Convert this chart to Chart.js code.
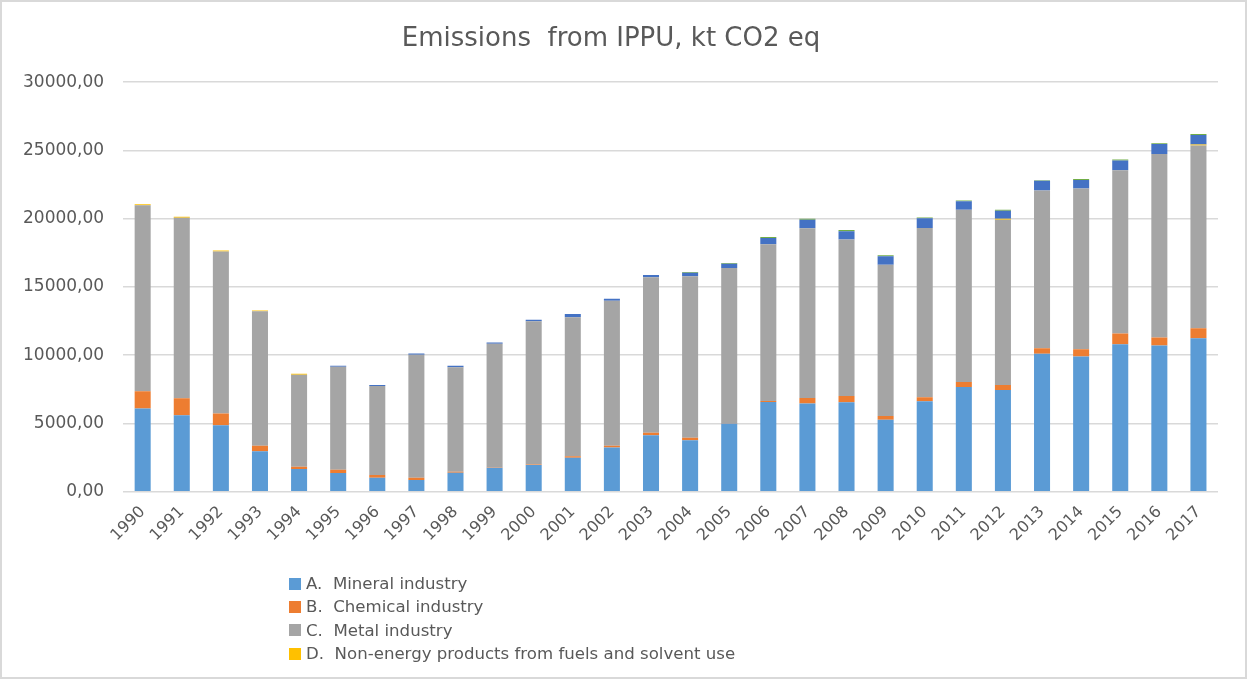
<!DOCTYPE html>
<html lang="en">
<head>
    <meta charset="UTF-8">
    <title>Emissions from IPPU</title>
    <script src="https://cdn.jsdelivr.net/npm/chart.js"></script>
    <style>
        html, body { margin: 0; padding: 0; background: #fff; }
        #frame {
            position: relative;
            width: 1243px;
            height: 675px;
            border: 2px solid #d9d9d9;
            overflow: hidden;
        }
        #chartBox { position: absolute; left: 0; top: 0; width: 1243px; height: 675px; }
        #legend {
            position: absolute;
            left: 287px;
            top: 570px;
            font-family: 'DejaVu Sans', sans-serif;
            font-size: 16.6px;
            color: #595959;
            line-height: 23.3px;
        }
        #legend .item { display: flex; align-items: center; white-space: pre; }
        #legend .box { width: 12px; height: 12px; margin-right: 5px; }
    </style>
</head>
<body>
    <div id="frame">
        <div id="chartBox"><canvas id="ippuChart"></canvas></div>
        <div id="legend"></div>
    </div>

    <script>
        const years = ['1990', '1991', '1992', '1993', '1994', '1995', '1996', '1997', '1998', '1999',
            '2000', '2001', '2002', '2003', '2004', '2005', '2006', '2007', '2008', '2009',
            '2010', '2011', '2012', '2013', '2014', '2015', '2016', '2017'];

        // kt CO2 eq
        const mineral = [6090, 5600, 4870, 2950, 1660, 1365, 1020, 850, 1390, 1750,
            1950, 2480, 3240, 4140, 3770, 4990, 6570, 6450, 6550, 5260,
            6620, 7660, 7450, 10100, 9900, 10800, 10710, 11240];
        const chemical = [1260, 1240, 850, 410, 170, 240, 200, 170, 70, 30,
            30, 120, 120, 170, 170, 30, 70, 410, 460, 290,
            290, 370, 360, 410, 530, 780, 580, 730];
        const metal = [13630, 13230, 11870, 9850, 6740, 7550, 6520, 9010, 7660, 9050,
            10500, 10170, 10630, 11390, 11850, 11360, 11490, 12440, 11460, 11070,
            12410, 12630, 12120, 11560, 11780, 11970, 13450, 13390];
        const nonEnergy = [70, 70, 70, 70, 70, 0, 0, 0, 0, 0,
            0, 0, 0, 0, 0, 0, 0, 0, 0, 0,
            0, 0, 70, 0, 0, 0, 0, 70];
        const odsSubst = [0, 0, 0, 0, 0, 70, 70, 90, 100, 100,
            120, 250, 150, 180, 240, 310, 460, 630, 610, 630,
            710, 610, 580, 700, 630, 710, 730, 700];
        const otherProd = [0, 0, 0, 0, 0, 0, 0, 0, 0, 0,
            0, 0, 0, 0, 70, 70, 70, 70, 95, 70,
            50, 70, 70, 50, 70, 70, 50, 70];

        const textColor = '#595959';
        const fontFamily = "'DejaVu Sans', sans-serif";

        const datasets = [
            { label: 'A.  Mineral industry', data: mineral, backgroundColor: '#5b9bd5', showInLegend: true },
            { label: 'B.  Chemical industry', data: chemical, backgroundColor: '#ed7d31', showInLegend: true },
            { label: 'C.  Metal industry', data: metal, backgroundColor: '#a5a5a5', showInLegend: true },
            { label: 'D.  Non-energy products from fuels and solvent use', data: nonEnergy, backgroundColor: '#ffc000', showInLegend: true },
            { label: 'F.  Product uses as substitutes for ODS', data: odsSubst, backgroundColor: '#4472c4', showInLegend: false },
            { label: 'G.  Other product manufacture and use', data: otherProd, backgroundColor: '#70ad47', showInLegend: false }
        ];

        const ctx = document.getElementById('ippuChart').getContext('2d');
        const chart = new Chart(ctx, {
            type: 'bar',
            data: {
                labels: years,
                datasets: datasets.map(d => ({
                    label: d.label,
                    data: d.data,
                    backgroundColor: d.backgroundColor,
                    borderWidth: 0,
                    categoryPercentage: 1,
                    barPercentage: 0.41
                }))
            },
            options: {
                responsive: true,
                maintainAspectRatio: false,
                animation: false,
                layout: { padding: { left: 2, right: 27, top: 0, bottom: 129 } },
                plugins: {
                    legend: { display: false },
                    tooltip: { enabled: false },
                    title: {
                        display: true,
                        text: 'Emissions  from IPPU, kt CO2 eq',
                        color: textColor,
                        font: { family: fontFamily, size: 26, weight: 'normal' },
                        padding: { top: 22, bottom: 27 }
                    }
                },
                scales: {
                    x: {
                        stacked: true,
                        grid: { display: false },
                        border: { display: false },
                        ticks: {
                            color: textColor,
                            font: { family: fontFamily, size: 16 },
                            minRotation: 45,
                            maxRotation: 45,
                            autoSkip: false
                        }
                    },
                    y: {
                        stacked: true,
                        min: 0,
                        max: 30000,
                        border: { display: false },
                        grid: { color: '#d9d9d9', lineWidth: 1.5, drawTicks: false },
                        ticks: {
                            stepSize: 5000,
                            padding: 19,
                            color: textColor,
                            font: { family: fontFamily, size: 17 },
                            callback: v => v.toFixed(2).replace('.', ',')
                        }
                    }
                }
            }
        });

        // legend as a single column, like the original
        const legendEl = document.getElementById('legend');
        chart.data.datasets.forEach((ds, i) => {
            if (!datasets[i].showInLegend) return;
            const item = document.createElement('div');
            item.className = 'item';
            const box = document.createElement('span');
            box.className = 'box';
            box.style.background = ds.backgroundColor;
            const label = document.createElement('span');
            label.textContent = ds.label;
            item.appendChild(box);
            item.appendChild(label);
            legendEl.appendChild(item);
        });
    </script>
</body>
</html>
